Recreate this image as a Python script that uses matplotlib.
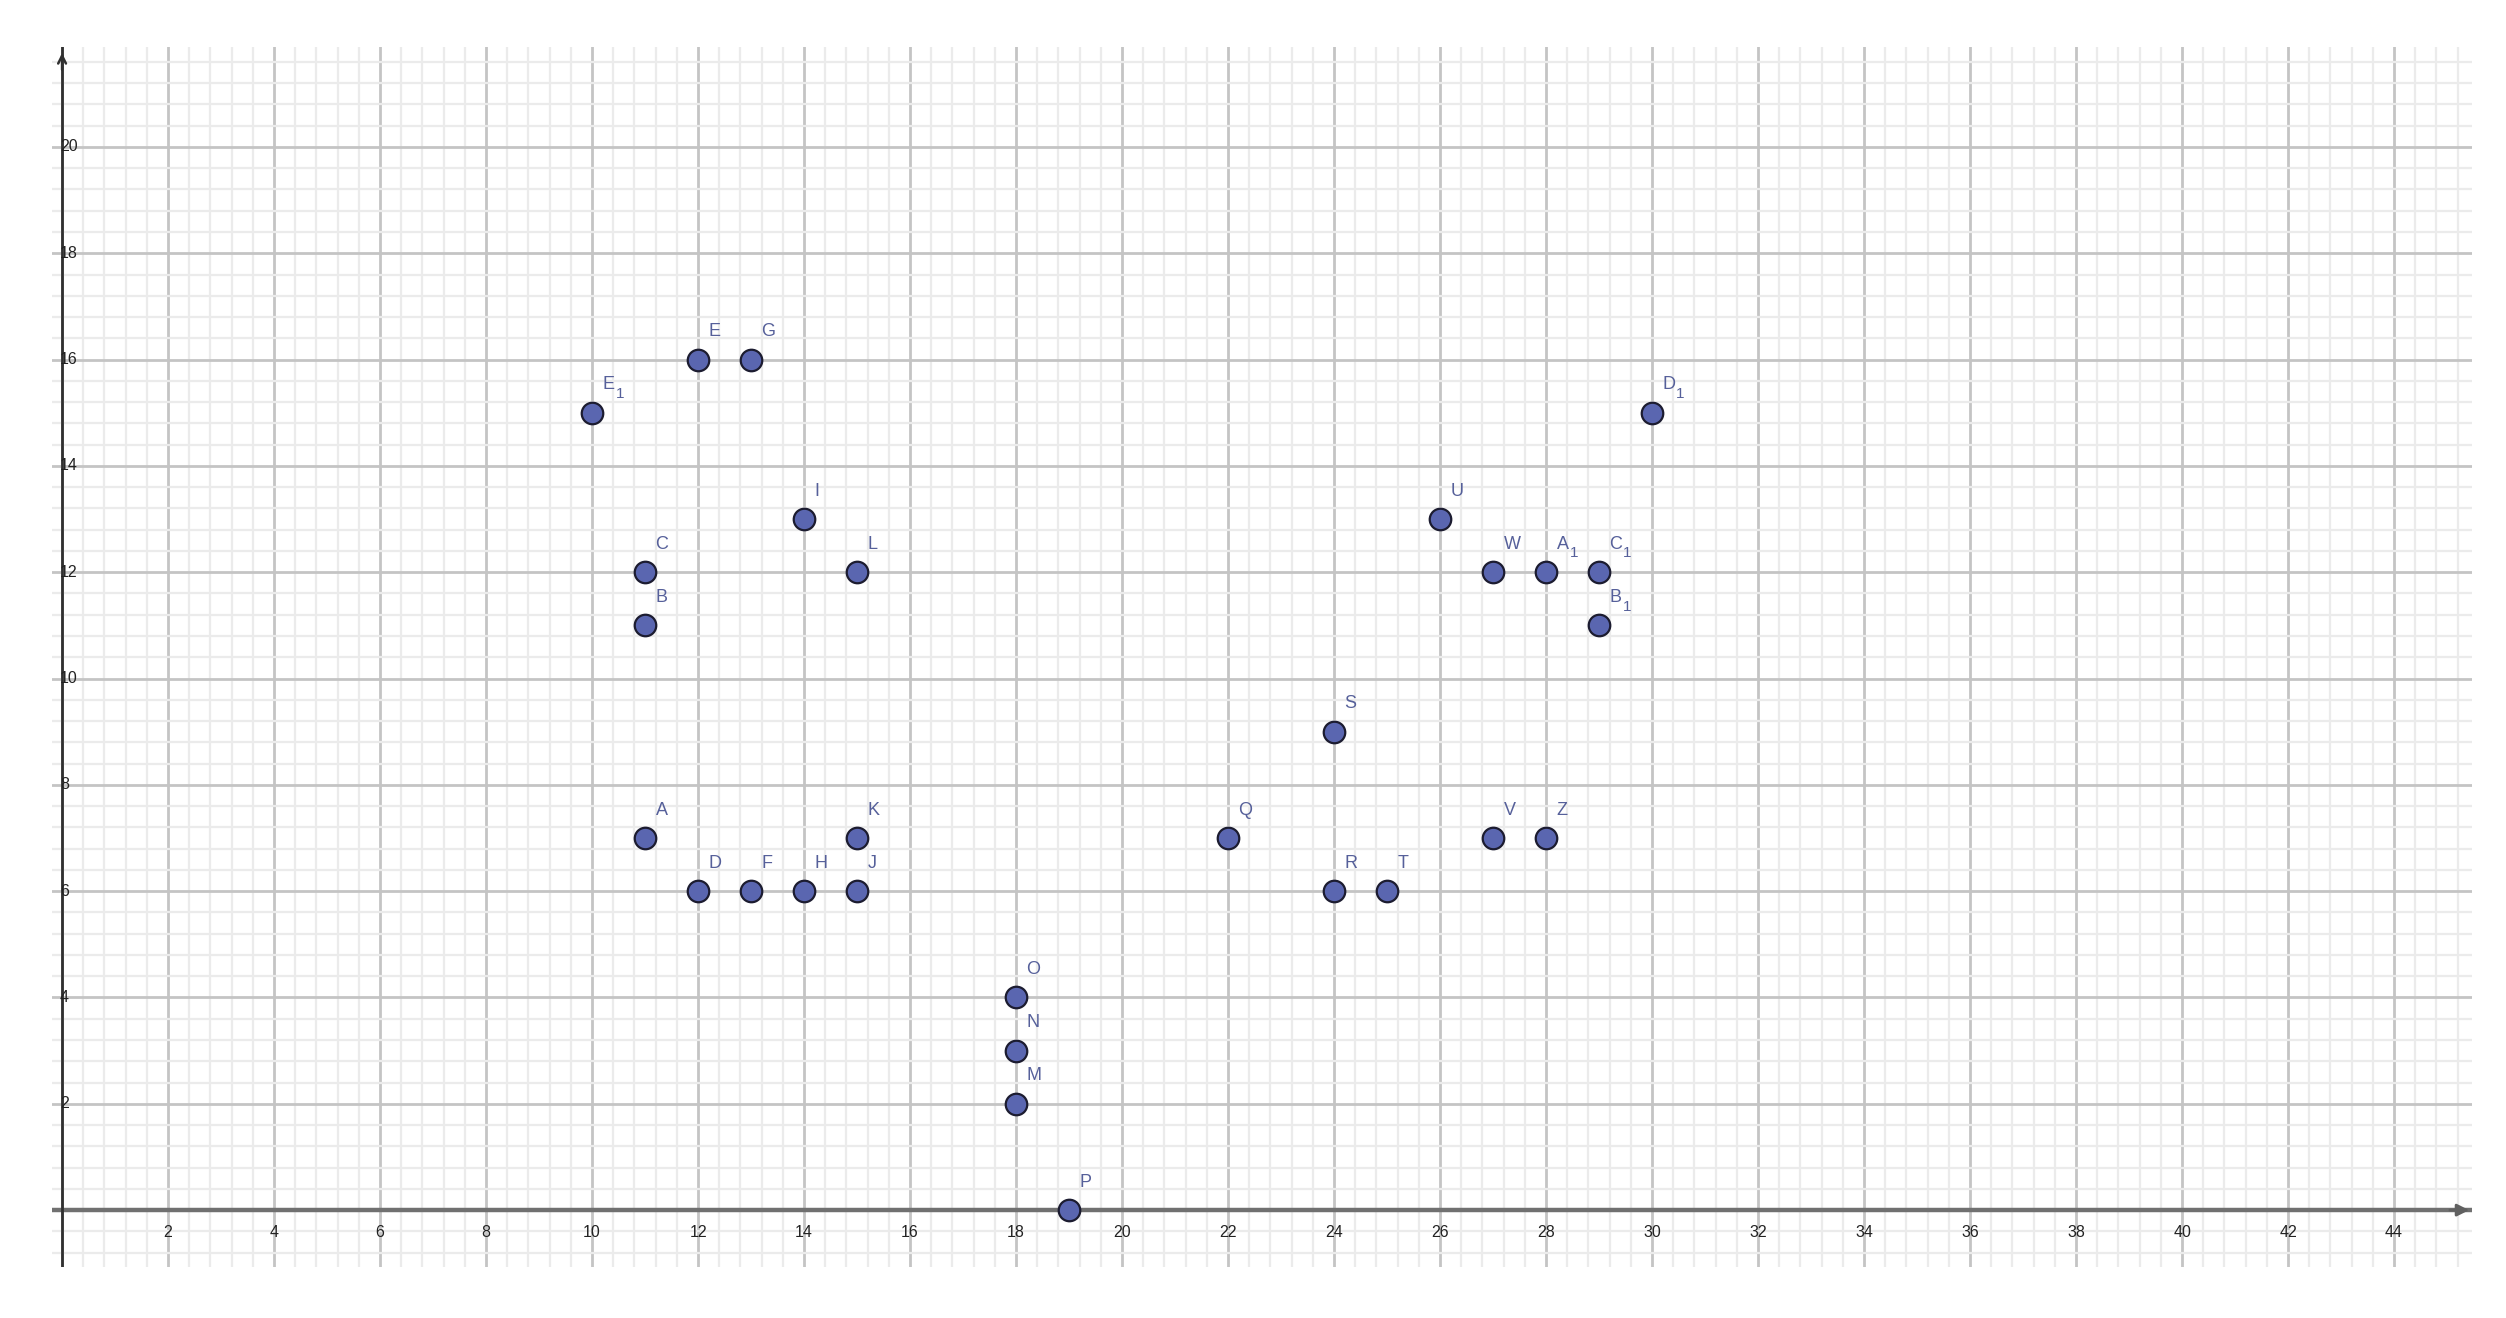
import matplotlib
matplotlib.use("Agg")
import matplotlib.pyplot as plt
import numpy as np

# ---- data ----
point_names = ["E_1", "E", "G", "I", "L", "C", "B", "A", "D", "F", "H", "J", "K",
               "O", "N", "M", "P", "Q", "S", "R", "T", "U", "W", "A_1", "C_1",
               "B_1", "D_1", "V", "Z"]
point_x = [10, 12, 13, 14, 15, 11, 11, 11, 12, 13, 14, 15, 15,
           18, 18, 18, 19, 22, 24, 24, 25, 26, 27, 28, 29,
           29, 30, 27, 28]
point_y = [15, 16, 16, 13, 12, 12, 11, 7, 6, 6, 6, 6, 7,
           4, 3, 2, 0, 7, 9, 6, 6, 13, 12, 12, 12,
           11, 15, 7, 7]
x_tick_values = list(range(2, 45, 2))
y_tick_values = list(range(2, 21, 2))

W, H = 2506, 1318
fig = plt.figure(figsize=(W / 100, H / 100), dpi=100)
left_px, right_px, top_px, bottom_px = 52, 2472, 47, 1267
ax = fig.add_axes([left_px / W, (H - bottom_px) / H,
                   (right_px - left_px) / W, (bottom_px - top_px) / H])
ax.set_xlim(-0.19, 45.47)
ax.set_ylim(-1.07, 21.88)
for s in ax.spines.values():
    s.set_visible(False)

# grid
ax.set_xticks(np.arange(0, 46, 2))
ax.set_yticks(np.arange(0, 22, 2))
ax.set_xticks(np.arange(0, 45.6, 0.4), minor=True)
ax.set_yticks(np.arange(-0.8, 22, 0.4), minor=True)
ax.tick_params(which="both", length=0, labelbottom=False, labelleft=False)
ax.grid(which="minor", color="#ebebeb", linewidth=1.6, zorder=0)
ax.grid(which="major", color="#c4c4c4", linewidth=2.0, zorder=1)
ax.set_axisbelow(True)

# axes
ax.axhline(0, color="#707070", linewidth=3.2, zorder=2)
ax.axvline(0, color="#303030", linewidth=2.0, zorder=2)
ax.annotate("", xy=(45.47, 0), xytext=(45.0, 0),
            arrowprops=dict(arrowstyle="-|>", color="#606060", lw=2,
                            mutation_scale=18), annotation_clip=False, zorder=3)
ax.annotate("", xy=(0, 21.82), xytext=(0, 21.4),
            arrowprops=dict(arrowstyle="->", color="#303030", lw=1.8,
                            mutation_scale=14), annotation_clip=False, zorder=3)

fam = ["Liberation Sans", "DejaVu Sans"]
tick_font = dict(fontsize=11.5, color="#222222", family=fam)
for xv in x_tick_values:
    ax.text(xv, -0.43, str(xv), ha="center", va="center", zorder=4, **tick_font)
for yv in y_tick_values:
    ax.text(-0.04, yv, str(yv), ha="left", va="center", zorder=4, **tick_font)

# points
ax.plot(point_x, point_y, linestyle="none", marker="o", markersize=15.5,
        markerfacecolor="#5a66b0", markeredgecolor="#1c1c30",
        markeredgewidth=1.6, zorder=5, clip_on=False)
label_color = "#56609a"
for name, xv, yv in zip(point_names, point_x, point_y):
    if "_" in name:
        base, sub = name.split("_")
    else:
        base, sub = name, None
    ax.annotate(base, xy=(xv, yv), xytext=(7.5, 14), textcoords="offset points",
                ha="left", va="bottom", fontsize=13, color=label_color,
                family=fam, zorder=6)
    if sub:
        ax.annotate(sub, xy=(xv, yv), xytext=(17.2, 8.5), textcoords="offset points",
                    ha="left", va="bottom", fontsize=11, color=label_color,
                    family=fam, zorder=6)

fig.savefig("out.png", dpi=100, facecolor="white")
